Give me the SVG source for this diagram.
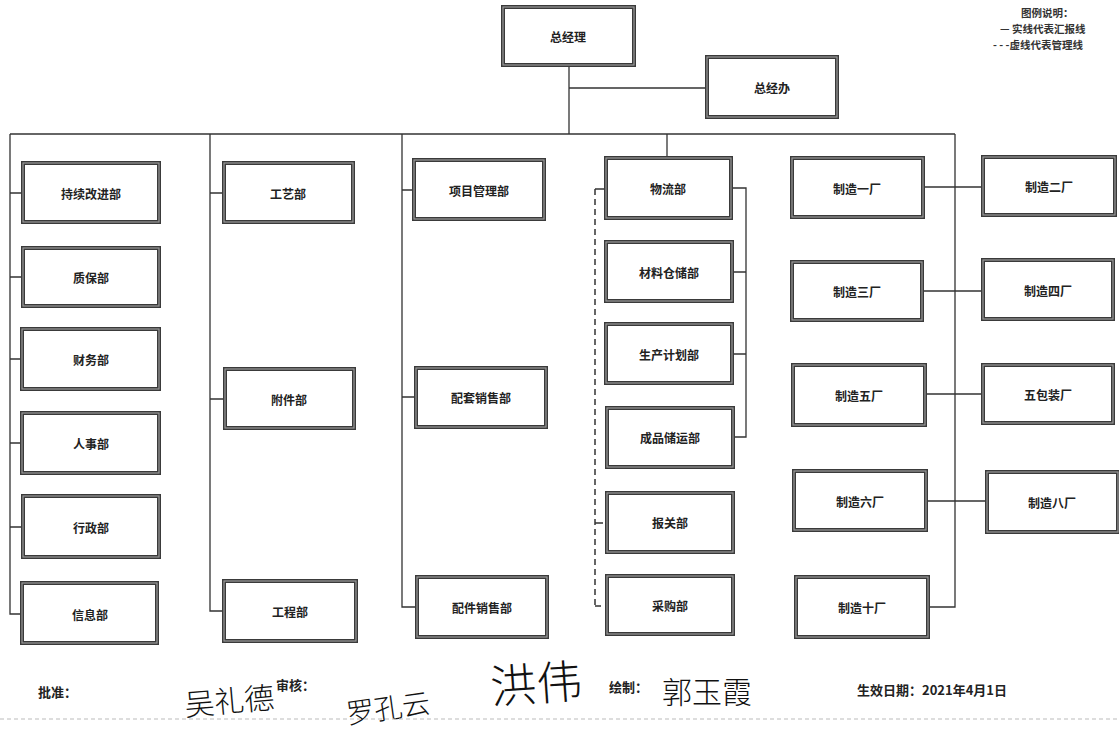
<svg xmlns="http://www.w3.org/2000/svg" width="1119" height="730" viewBox="0 0 1119 730">
<style>
.bo{fill:#fff;stroke:#3a3a3a;stroke-width:4}
.bi{fill:none;stroke:#9a9a9a;stroke-width:1.2}
.t{font-family:"Noto Sans CJK SC","Liberation Serif",sans-serif;font-size:12px;font-weight:700;fill:#222;text-anchor:middle;dominant-baseline:central}
.c{fill:none;stroke:#333;stroke-width:1.3}
.d{fill:none;stroke:#333;stroke-width:1.5;stroke-dasharray:6,4}
.f{font-family:"Noto Sans CJK SC","Liberation Serif",sans-serif;font-size:13px;font-weight:700;fill:#222}
.lg{font-family:"Noto Sans CJK SC","Liberation Serif",sans-serif;font-size:10.5px;font-weight:700;fill:#333}
.sg{font-family:"Noto Sans CJK SC",sans-serif;font-weight:200;fill:#111}
</style>
<rect width="1119" height="730" fill="#fff"/>
<g id="connectors">
<path class="c" d="M569 65V134M569 88H707"/>
<path class="c" d="M10 134H955"/>
<path class="c" d="M10 134V614H22M10 193H23M10 277H23M10 359H22M10 443H22M10 527H23"/>
<path class="c" d="M210 134V611H224M210 193H224M210 399H225"/>
<path class="c" d="M402 134V607H417M402 190H414M402 397H416"/>
<path class="c" d="M667 134V158"/>
<path class="c" d="M731 188H746V437H733M746 272H732M746 354H732"/>
<path class="d" d="M595 189V606"/>
<path class="c" d="M595 189H606M595 523H603M595 606H601"/>
<path class="c" d="M955 134V607H928"/>
<path class="c" d="M923 187H983M922 291H983M925 394H983M926 501H987"/>
</g>
<g id="n-zjl"><rect class="bo" x="503" y="7" width="131" height="58"/><rect class="bi" x="503" y="7" width="131" height="58"/><text class="t" x="568" y="36">总经理</text></g>
<g id="n-zjb"><rect class="bo" x="707" y="57" width="130" height="60"/><rect class="bi" x="707" y="57" width="130" height="60"/><text class="t" x="772" y="87">总经办</text></g>
<g id="n-cxgj"><rect class="bo" x="23" y="163" width="136" height="59"/><rect class="bi" x="23" y="163" width="136" height="59"/><text class="t" x="91" y="193">持续改进部</text></g>
<g id="n-zb"><rect class="bo" x="23" y="248" width="136" height="58"/><rect class="bi" x="23" y="248" width="136" height="58"/><text class="t" x="91" y="277">质保部</text></g>
<g id="n-cw"><rect class="bo" x="22" y="329" width="137" height="60"/><rect class="bi" x="22" y="329" width="137" height="60"/><text class="t" x="91" y="359">财务部</text></g>
<g id="n-rs"><rect class="bo" x="22" y="413" width="137" height="60"/><rect class="bi" x="22" y="413" width="137" height="60"/><text class="t" x="91" y="443">人事部</text></g>
<g id="n-xz"><rect class="bo" x="23" y="496" width="136" height="61"/><rect class="bi" x="23" y="496" width="136" height="61"/><text class="t" x="91" y="527">行政部</text></g>
<g id="n-xx"><rect class="bo" x="22" y="583" width="135" height="60"/><rect class="bi" x="22" y="583" width="135" height="60"/><text class="t" x="90" y="614">信息部</text></g>
<g id="n-gy"><rect class="bo" x="224" y="163" width="129" height="59"/><rect class="bi" x="224" y="163" width="129" height="59"/><text class="t" x="288" y="193">工艺部</text></g>
<g id="n-fj"><rect class="bo" x="225" y="369" width="129" height="59"/><rect class="bi" x="225" y="369" width="129" height="59"/><text class="t" x="289" y="399">附件部</text></g>
<g id="n-gc"><rect class="bo" x="224" y="581" width="132" height="60"/><rect class="bi" x="224" y="581" width="132" height="60"/><text class="t" x="290" y="611">工程部</text></g>
<g id="n-xmgl"><rect class="bo" x="414" y="160" width="130" height="59"/><rect class="bi" x="414" y="160" width="130" height="59"/><text class="t" x="479" y="190">项目管理部</text></g>
<g id="n-ptxs"><rect class="bo" x="416" y="368" width="130" height="59"/><rect class="bi" x="416" y="368" width="130" height="59"/><text class="t" x="481" y="397">配套销售部</text></g>
<g id="n-pjxs"><rect class="bo" x="417" y="577" width="130" height="60"/><rect class="bi" x="417" y="577" width="130" height="60"/><text class="t" x="482" y="607">配件销售部</text></g>
<g id="n-wl"><rect class="bo" x="606" y="158" width="125" height="60"/><rect class="bi" x="606" y="158" width="125" height="60"/><text class="t" x="668" y="188">物流部</text></g>
<g id="n-clcc"><rect class="bo" x="606" y="242" width="126" height="59"/><rect class="bi" x="606" y="242" width="126" height="59"/><text class="t" x="669" y="272">材料仓储部</text></g>
<g id="n-scjh"><rect class="bo" x="606" y="324" width="126" height="59"/><rect class="bi" x="606" y="324" width="126" height="59"/><text class="t" x="669" y="354">生产计划部</text></g>
<g id="n-cpcy"><rect class="bo" x="607" y="408" width="126" height="59"/><rect class="bi" x="607" y="408" width="126" height="59"/><text class="t" x="670" y="437">成品储运部</text></g>
<g id="n-bg"><rect class="bo" x="607" y="493" width="126" height="59"/><rect class="bi" x="607" y="493" width="126" height="59"/><text class="t" x="670" y="522">报关部</text></g>
<g id="n-cg"><rect class="bo" x="607" y="576" width="126" height="58"/><rect class="bi" x="607" y="576" width="126" height="58"/><text class="t" x="670" y="605">采购部</text></g>
<g id="n-zz1"><rect class="bo" x="792" y="158" width="131" height="59"/><rect class="bi" x="792" y="158" width="131" height="59"/><text class="t" x="857" y="188">制造一厂</text></g>
<g id="n-zz2"><rect class="bo" x="983" y="157" width="132" height="58"/><rect class="bi" x="983" y="157" width="132" height="58"/><text class="t" x="1049" y="186">制造二厂</text></g>
<g id="n-zz3"><rect class="bo" x="792" y="262" width="130" height="58"/><rect class="bi" x="792" y="262" width="130" height="58"/><text class="t" x="857" y="291">制造三厂</text></g>
<g id="n-zz4"><rect class="bo" x="983" y="260" width="130" height="59"/><rect class="bi" x="983" y="260" width="130" height="59"/><text class="t" x="1048" y="290">制造四厂</text></g>
<g id="n-zz5"><rect class="bo" x="793" y="365" width="132" height="60"/><rect class="bi" x="793" y="365" width="132" height="60"/><text class="t" x="859" y="395">制造五厂</text></g>
<g id="n-wbz"><rect class="bo" x="983" y="365" width="130" height="58"/><rect class="bi" x="983" y="365" width="130" height="58"/><text class="t" x="1048" y="394">五包装厂</text></g>
<g id="n-zz6"><rect class="bo" x="794" y="471" width="132" height="59"/><rect class="bi" x="794" y="471" width="132" height="59"/><text class="t" x="860" y="501">制造六厂</text></g>
<g id="n-zz8"><rect class="bo" x="987" y="472" width="131" height="60"/><rect class="bi" x="987" y="472" width="131" height="60"/><text class="t" x="1052" y="502">制造八厂</text></g>
<g id="n-zz10"><rect class="bo" x="796" y="577" width="132" height="60"/><rect class="bi" x="796" y="577" width="132" height="60"/><text class="t" x="862" y="607">制造十厂</text></g>
<g id="legend">
<text class="lg" x="1021" y="17" font-size="9.5">图例说明：</text>
<text class="lg" x="1000" y="33">— 实线代表汇报线</text>
<text class="lg" x="993" y="49">- - -虚线代表管理线</text>
</g>
<g id="footer">
<text class="f" x="38" y="697">批准：</text>
<text class="sg" x="184" y="712" font-size="30" transform="rotate(-5 230 698)">吴礼德</text>
<text class="f" x="276" y="690" font-size="12">审核：</text>
<text class="sg" x="345" y="718" font-size="28" transform="rotate(-8 390 700)">罗孔云</text>
<text class="sg" x="490" y="700" font-size="46" transform="rotate(-4 545 680)">洪伟</text>
<text class="f" x="609" y="692">绘制：</text>
<text class="sg" x="662" y="703" font-size="30">郭玉霞</text>
<text class="f" x="857" y="695" font-size="15">生效日期：2021年4月1日</text>
<line x1="0" y1="719" x2="1119" y2="719" stroke="#bbb" stroke-width="1" stroke-dasharray="4,3"/>
</g>
</svg>
